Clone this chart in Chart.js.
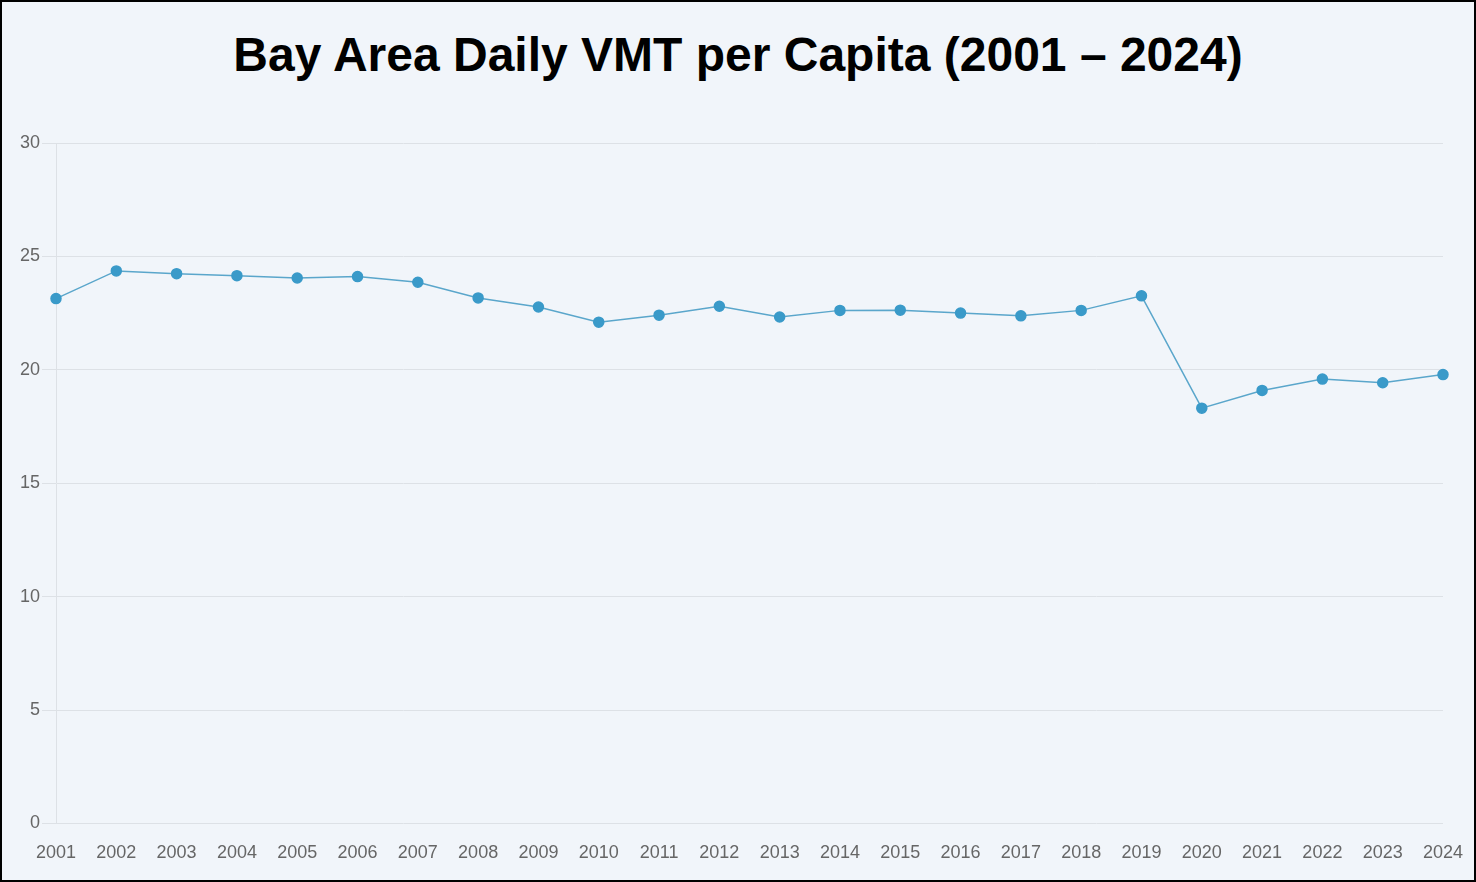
<!DOCTYPE html>
<html>
<head>
<meta charset="utf-8">
<script src="https://cdn.jsdelivr.net/npm/chart.js@4.4.1/dist/chart.umd.min.js"></script>
<style>
  html, body { margin: 0; padding: 0; background: #fff; }
  #frame {
    position: absolute; left: 0; top: 0;
    width: 1472px; height: 878px;
    border: 2px solid #000;
    background: #f1f5fa;
    overflow: hidden;
  }
  #title {
    position: absolute; left: 0; width: 1472px; top: 24px;
    text-align: center; margin: 0;
    font-family: "Liberation Sans", Arial, sans-serif;
    font-weight: bold; font-size: 48px; color: #000;
    line-height: 58px;
  }
  #wrap { position: absolute; left: -2px; top: 98px; width: 1476px; height: 782px; }
</style>
</head>
<body>
<div id="frame">
  <h1 id="title">Bay Area Daily VMT per Capita (2001 – 2024)</h1>
  <div id="wrap"><canvas id="chart"></canvas></div>
</div>
<script>
// years along the x axis
const years = ["2001", "2002", "2003", "2004", "2005", "2006", "2007", "2008", "2009", "2010", "2011", "2012",
    "2013", "2014", "2015", "2016", "2017", "2018", "2019", "2020", "2021", "2022", "2023", "2024"];

// daily vehicle miles travelled per capita
const vmtPerCapita = [23.14, 24.36, 24.24, 24.15, 24.05, 24.11, 23.86, 23.17, 22.77, 22.1, 22.41, 22.8,
    22.33, 22.62, 22.63, 22.5, 22.38, 22.62, 23.26, 18.31, 19.09, 19.59, 19.43, 19.79];

// y axis ticks
const yTicks = [0, 5, 10, 15, 20, 25, 30];

function createChart() {
    const ctx = document.getElementById("chart").getContext("2d");

    new Chart(ctx, {
        type: "line",
        data: {
            labels: years,
            datasets: [{
                label: "Daily VMT per Capita",
                data: vmtPerCapita,
                borderColor: "#5aa6cb",
                backgroundColor: "#3a9ac9",
                pointBackgroundColor: "#3a9ac9",
                pointBorderColor: "#3a9ac9",
                pointRadius: 5,
                borderWidth: 1.5,
                tension: 0
            }]
        },
        options: {
            responsive: true,
            maintainAspectRatio: false,
            animation: false,
            layout: { padding: { top: 43, right: 33, bottom: 7, left: 0 } },
            plugins: {
                legend: { display: false },
                tooltip: { enabled: false }
            },
            scales: {
                x: {
                    offset: false,
                    grid: { display: false },
                    border: { display: false },
                    ticks: {
                        color: "#666",
                        font: { family: "Liberation Sans, Arial, sans-serif", size: 18 },
                        maxRotation: 0,
                        autoSkip: false,
                        padding: 11
                    }
                },
                y: {
                    min: 0,
                    max: 30,
                    afterBuildTicks: scale => {
                        scale.ticks = yTicks.map(v => ({ value: v }));
                    },
                    afterFit: scale => { scale.width = 56; },
                    grid: {
                        color: "#dde1e6",
                        lineWidth: 1,
                        drawTicks: true,
                        tickLength: 14
                    },
                    border: { display: true, color: "#dde1e6" },
                    ticks: {
                        color: "#666",
                        font: { family: "Liberation Sans, Arial, sans-serif", size: 18 },
                        padding: 2
                    }
                }
            }
        }
    });
}

createChart();
</script>
</body>
</html>
